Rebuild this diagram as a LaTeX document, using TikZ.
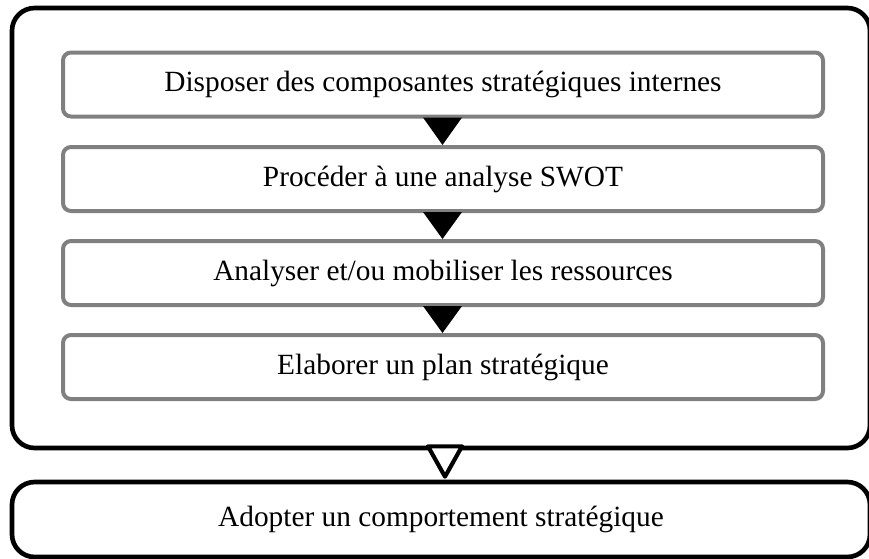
\documentclass[tikz,border=0pt]{standalone}
\usepackage{fontspec}
\setmainfont{Liberation Serif}
\usepackage{tikz}
\usetikzlibrary{calc}
\definecolor{boxgray}{RGB}{128,128,128}
\tikzstyle{outerbox} = [draw=black, line width=3.5pt, rounded corners=17pt, fill=white, inner sep=0]
\tikzstyle{stepbox} = [draw=boxgray, line width=3pt, rounded corners=6pt, fill=white, minimum width=570pt, minimum height=48pt, inner sep=0]
\tikzstyle{fulltri} = [fill=black]
\tikzstyle{emptytri} = [draw=black, fill=white, line width=3.1pt, line join=round]

\begin{document}
\begin{tikzpicture}[x=0.75pt,y=-0.75pt,font=\fontsize{22}{26}\selectfont]
	
	% Canvas:
	\useasboundingbox (0,0) rectangle (869,558);
	
	% Outer frames:
	\node [outerbox, minimum width=643.5pt, minimum height=330pt] (frame) at (441,228) {};
	\node [outerbox, minimum width=643.5pt, minimum height=56.25pt] (final) at (441,519.5) {Adopter un comportement stratégique};
	
	% Steps:
	\node [stepbox] (s1) at (443,84.5) {Disposer des composantes stratégiques internes};
	\node [stepbox] (s2) at (443,179) {Procéder à une analyse SWOT};
	\node [stepbox] (s3) at (443,273) {Analyser et/ou mobiliser les ressources};
	\node [stepbox] (s4) at (443,367) {Elaborer un plan stratégique};
	
	% Triangles between the steps:
	\foreach \a/\b in {s1/s2,s2/s3,s3/s4}
	\fill [fulltri] ($(\a.south)+(-20,-1)$) -- ($(\a.south)+(19,-1)$) -- ($(\b.north)+(-0.5,0)$) -- cycle;
	
	% Triangle between the frames:
	\draw [emptytri] ($(frame.south)+(4,-4)$) -- ($(frame.south)+(21,-4)$) -- ($(final.north)+(4,-3)$) -- ($(frame.south)+(-13,-4)$) -- cycle;
	
\end{tikzpicture}
\end{document}
